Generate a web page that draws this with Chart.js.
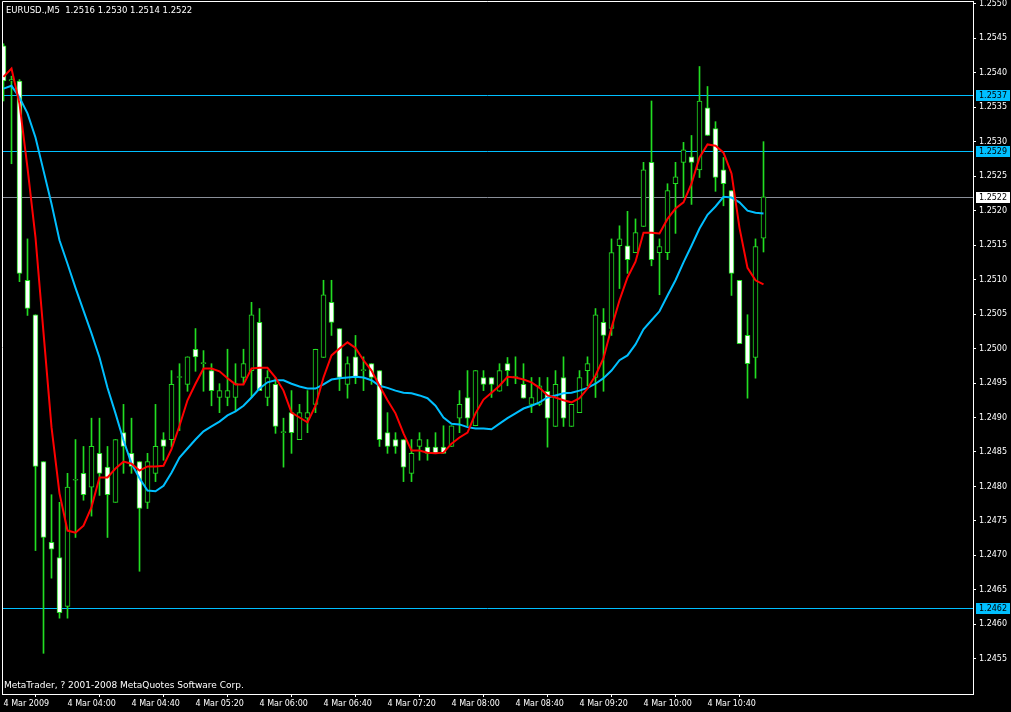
<!DOCTYPE html>
<html>
<head>
<meta charset="utf-8">
<title>EURUSD M5</title>
<script src="https://cdn.jsdelivr.net/npm/chart.js@4.4.1/dist/chart.umd.min.js"></script>
<style>
  html, body { margin: 0; padding: 0; background: #000; }
  #wrap { width: 1011px; height: 712px; }
</style>
</head>
<body>
<div id="wrap"><canvas id="chart" width="1011" height="712"></canvas></div>
<script>
// EURUSD M5, 4 Mar 2009 03:20 .. 11:15
const symbol = 'EURUSD.,M5';
const copyright = 'MetaTrader, ? 2001-2008 MetaQuotes Software Corp.';

const openPrices = [
  1.25439,1.25388,1.25388,1.25099,1.25049,1.24836,1.24719,1.24697,1.24626,1.24809,
  1.24819,1.24799,1.24848,1.24828,1.24777,1.24878,1.24848,1.24836,1.24777,1.24819,
  1.24868,1.24868,1.24958,1.24948,1.24999,1.24978,1.24968,1.24929,1.24929,1.24929,
  1.24958,1.24968,1.25038,1.24929,1.24948,1.24878,1.24907,1.24868,1.24899,1.24919,
  1.24987,1.25067,1.25029,1.24948,1.24988,1.24968,1.24978,1.24968,1.24878,1.24868,
  1.24868,1.24819,1.24858,1.24857,1.24857,1.24857,1.24858,1.24899,1.24929,1.24888,
  1.24958,1.24958,1.24938,1.24978,1.24958,1.24948,1.24919,1.24919,1.24938,1.24887,
  1.24958,1.24887,1.24907,1.24968,1.24958,1.25038,1.25029,1.25149,1.25149,1.25139,
  1.25177,1.25270,1.25139,1.25139,1.25239,1.25270,1.25278,1.25259,1.25349,1.25319,
  1.25259,1.25229,1.25099,1.25019,1.24987,1.2516
];
const highPrices = [
  1.25442,1.25395,1.25390,1.25159,1.25049,1.24836,1.24788,1.24777,1.24819,1.24868,
  1.24858,1.24899,1.24899,1.24858,1.24868,1.24919,1.24899,1.24836,1.24848,1.24919,
  1.24878,1.24968,1.24978,1.24988,1.25029,1.24997,1.24978,1.24949,1.24999,1.24978,
  1.24999,1.25067,1.25058,1.24968,1.24958,1.24899,1.24939,1.24919,1.24939,1.24999,
  1.25099,1.25099,1.25029,1.24988,1.25019,1.24988,1.24978,1.24968,1.24907,1.24878,
  1.24868,1.24868,1.24878,1.24868,1.24878,1.24888,1.24888,1.24939,1.24968,1.24968,
  1.24968,1.24958,1.24978,1.24987,1.24988,1.24978,1.24958,1.24958,1.24958,1.24968,
  1.24988,1.24919,1.24968,1.24988,1.25058,1.25058,1.25159,1.25178,1.25199,1.25188,
  1.25270,1.25359,1.25159,1.25239,1.25270,1.25299,1.25309,1.25409,1.25380,1.25329,
  1.25277,1.25229,1.25099,1.25049,1.25159,1.2530
];
const lowPrices = [
  1.25359,1.25268,1.25097,1.25048,1.24707,1.24558,1.24667,1.24609,1.24609,1.24726,
  1.24780,1.24757,1.24787,1.24726,1.24777,1.24819,1.24819,1.24677,1.24768,1.24807,
  1.24838,1.24857,1.24881,1.24938,1.24967,1.24938,1.24917,1.24907,1.24917,1.24910,
  1.24949,1.24929,1.24939,1.24917,1.24877,1.24828,1.24848,1.24868,1.24878,1.24907,
  1.24987,1.25019,1.24939,1.24928,1.24949,1.24939,1.24948,1.24858,1.24848,1.24848,
  1.24807,1.24807,1.24838,1.24838,1.24848,1.24848,1.24858,1.24878,1.24888,1.24888,
  1.24939,1.24929,1.24938,1.24946,1.24949,1.24928,1.24907,1.24917,1.24857,1.24887,
  1.24887,1.24887,1.24907,1.24946,1.24929,1.24938,1.25019,1.25087,1.25109,1.25139,
  1.25177,1.25120,1.25078,1.25129,1.25167,1.25219,1.25209,1.25248,1.25309,1.25228,
  1.25207,1.25077,1.25007,1.24928,1.24957,1.2514
];
const closePrices = [
  1.25388,1.25390,1.25109,1.25058,1.24829,1.24726,1.24709,1.24617,1.24799,1.24809,
  1.24788,1.24858,1.24819,1.24788,1.24868,1.24858,1.24829,1.24768,1.24836,1.24858,
  1.24858,1.24948,1.24958,1.24988,1.24988,1.24978,1.24939,1.24939,1.24939,1.24949,
  1.24978,1.25049,1.24939,1.24958,1.24887,1.24878,1.24878,1.24907,1.24907,1.24999,
  1.25078,1.25038,1.24958,1.24978,1.24958,1.24968,1.24958,1.24868,1.24858,1.24858,
  1.24828,1.24848,1.24868,1.24848,1.24848,1.24848,1.24888,1.24919,1.24899,1.24968,
  1.24948,1.24948,1.24968,1.24968,1.24958,1.24928,1.24929,1.24946,1.24899,1.24948,
  1.24899,1.24919,1.24958,1.24978,1.25049,1.25019,1.25139,1.25159,1.25129,1.25168,
  1.25259,1.25129,1.25148,1.25229,1.25249,1.25288,1.25270,1.25359,1.25309,1.25248,
  1.25239,1.25109,1.25007,1.24978,1.25148,1.2522
];
// red (fast) and blue (slow) moving averages as drawn
const fastMA = [
  1.25394,1.25406,1.25355,1.25262,1.25161,1.25023,1.24886,1.24790,1.24736,1.24733,
  1.24743,1.24770,1.24813,1.24813,1.24826,1.24836,1.24833,1.24823,1.24829,1.24829,
  1.24830,1.24854,1.24888,1.24925,1.24949,1.24971,1.24971,1.24967,1.24957,1.24948,
  1.24948,1.24971,1.24972,1.24972,1.24958,1.24939,1.24907,1.24900,1.24893,1.24917,
  1.24958,1.24990,1.25000,1.25009,1.25001,1.24983,1.24968,1.24946,1.24925,1.24906,
  1.24877,1.24852,1.24852,1.24849,1.24848,1.24849,1.24862,1.24871,1.24878,1.24906,
  1.24926,1.24936,1.24946,1.24959,1.24958,1.24955,1.24951,1.24943,1.24932,1.24929,
  1.24925,1.24922,1.24928,1.24942,1.24961,1.24986,1.25030,1.25070,1.25103,1.25126,
  1.25168,1.25168,1.25167,1.25188,1.25203,1.25212,1.25239,1.25277,1.25296,1.25294,
  1.25284,1.25254,1.25175,1.25117,1.25099,1.25093
];
const slowMA = [
  1.25377,1.25381,1.25364,1.25341,1.25306,1.25258,1.25210,1.25157,1.25123,1.25088,
  1.25055,1.25022,1.24987,1.24943,1.24906,1.24867,1.24833,1.24812,1.24794,1.24793,
  1.24801,1.24820,1.24842,1.24855,1.24868,1.24880,1.24887,1.24894,1.24903,1.24909,
  1.24917,1.24929,1.24942,1.24951,1.24954,1.24954,1.24949,1.24945,1.24942,1.24942,
  1.24948,1.24955,1.24957,1.24958,1.24959,1.24958,1.24954,1.24946,1.24943,1.24939,
  1.24936,1.24935,1.24932,1.24928,1.24917,1.24900,1.24891,1.24890,1.24886,1.24884,
  1.24884,1.24883,1.24891,1.24899,1.24906,1.24913,1.24917,1.24922,1.24929,1.24932,
  1.24935,1.24936,1.24939,1.24943,1.24949,1.24957,1.24968,1.24983,1.24990,1.25006,
  1.25028,1.25041,1.25054,1.25077,1.25099,1.25125,1.25149,1.25174,1.25194,1.25206,
  1.25220,1.25219,1.25212,1.25200,1.25197,1.25196
];

const timeLabels = ['4 Mar 2009', '4 Mar 04:00', '4 Mar 04:40', '4 Mar 05:20', '4 Mar 06:00', '4 Mar 06:40',
  '4 Mar 07:20', '4 Mar 08:00', '4 Mar 08:40', '4 Mar 09:20', '4 Mar 10:00', '4 Mar 10:40'];
const timeLabelBars = [0, 8, 16, 24, 32, 40, 48, 56, 64, 72, 80, 88];
const priceTicks = [1.2455, 1.2460, 1.2465, 1.2470, 1.2475, 1.2480, 1.2485, 1.2490, 1.2495, 1.2500,
  1.2505, 1.2510, 1.2515, 1.2520, 1.2525, 1.2530, 1.2535, 1.2540, 1.2545, 1.2550];
// horizontal lines put on the chart
const levelPrices = [1.25367, 1.25287, 1.24623];

const green = '#22dd22';
const skyBlue = '#00bfff';
const fontFamily = '"DejaVu Sans", Verdana, sans-serif';
const axisFont = { family: fontFamily, size: 8 };

const barIndex = openPrices.map((_, i) => i);
const lastBar = barIndex.length - 1;
const bidPrice = closePrices[lastBar];

const mtOverlay = {
    id: 'mtOverlay',
    beforeDatasetsDraw(chart) {
        let ctx = chart.ctx;
        let area = chart.chartArea;
        let ys = chart.scales.y;
        ctx.save();
        ctx.lineWidth = 1;
        levelPrices.forEach(p => {
            let y = Math.round(ys.getPixelForValue(p)) + 0.5;
            ctx.strokeStyle = skyBlue;
            ctx.beginPath(); ctx.moveTo(area.left, y); ctx.lineTo(area.right, y); ctx.stroke();
        });
        let yb = Math.round(ys.getPixelForValue(bidPrice)) + 0.5;
        ctx.strokeStyle = '#8a8f99';
        ctx.beginPath(); ctx.moveTo(area.left, yb); ctx.lineTo(area.right, yb); ctx.stroke();
        ctx.restore();
    },
    afterDraw(chart) {
        let ctx = chart.ctx;
        let area = chart.chartArea;
        let ys = chart.scales.y;
        ctx.save();
        // frame top and left
        ctx.strokeStyle = '#ffffff';
        ctx.lineWidth = 1;
        ctx.beginPath();
        ctx.moveTo(area.left + 0.5, area.bottom);
        ctx.lineTo(area.left + 0.5, area.top + 0.5);
        ctx.lineTo(area.right, area.top + 0.5);
        ctx.stroke();

        ctx.textBaseline = 'middle';
        ctx.textAlign = 'left';
        ctx.fillStyle = '#ffffff';
        let last = [openPrices[lastBar], highPrices[lastBar], lowPrices[lastBar], closePrices[lastBar]]
            .map(v => v.toFixed(4)).join(' ');
        ctx.font = '8.5px ' + fontFamily;
        ctx.fillText(symbol + '  ' + last, area.left + 4, area.top + 10);
        ctx.font = '9px ' + fontFamily;
        ctx.fillText(copyright, area.left + 2, area.bottom - 8);

        // price boxes on the right scale
        ctx.font = '8px ' + fontFamily;
        let boxes = levelPrices.map(p => ({ p: p, bg: skyBlue }));
        boxes.push({ p: bidPrice, bg: '#ffffff' });
        boxes.forEach(b => {
            let y = Math.round(ys.getPixelForValue(b.p));
            ctx.fillStyle = b.bg;
            ctx.fillRect(area.right + 3, y - 5, chart.width - area.right - 4, 11);
            ctx.fillStyle = '#000000';
            ctx.fillText(b.p.toFixed(4), area.right + 6, y + 0.5);
        });
        ctx.restore();
    }
};

function drawChart(canvasid) {
    let ctx = document.getElementById(canvasid).getContext('2d');
    return new Chart(ctx, {
        type: 'bar',
        data: {
            datasets: [{
                type: 'line',
                label: 'MA fast',
                data: barIndex.map(i => ({ x: i, y: fastMA[i] })),
                borderColor: '#ff0000',
                borderWidth: 2,
                pointRadius: 0,
                tension: 0,
                order: 0
            }, {
                type: 'line',
                label: 'MA slow',
                data: barIndex.map(i => ({ x: i, y: slowMA[i] })),
                borderColor: skyBlue,
                borderWidth: 2,
                pointRadius: 0,
                tension: 0,
                order: 1
            }, {
                label: 'body',
                data: barIndex.map(i => ({ x: i, y: [openPrices[i], closePrices[i]] })),
                backgroundColor: barIndex.map(i => closePrices[i] >= openPrices[i] ? '#000000' : '#ffffff'),
                borderColor: green,
                borderWidth: 1,
                borderSkipped: false,
                barThickness: 5,
                minBarLength: 1,
                grouped: false,
                order: 2
            }, {
                label: 'wick',
                data: barIndex.map(i => ({ x: i, y: [lowPrices[i], highPrices[i]] })),
                backgroundColor: green,
                borderWidth: 0,
                barThickness: 1,
                minBarLength: 1,
                grouped: false,
                order: 3
            }]
        },
        options: {
            responsive: false,
            devicePixelRatio: 1,
            animation: false,
            layout: { autoPadding: false, padding: { left: 2, top: 1, right: 0, bottom: 0 } },
            plugins: {
                legend: { display: false },
                tooltip: { enabled: false }
            },
            scales: {
                x: {
                    type: 'linear',
                    offset: false,
                    min: -0.1875,
                    max: 121.1875,
                    afterBuildTicks: s => { s.ticks = timeLabelBars.map(v => ({ value: v })); },
                    afterFit: s => { s.height = 18; s.paddingLeft = 0; s.paddingRight = 0; },
                    ticks: {
                        color: '#ffffff',
                        font: axisFont,
                        autoSkip: false,
                        maxRotation: 0,
                        minRotation: 0,
                        align: 'start',
                        padding: 2,
                        callback: (v, i) => timeLabels[i]
                    },
                    grid: { drawOnChartArea: false, drawTicks: true, tickLength: 3, tickColor: '#ffffff' },
                    border: { display: true, color: '#ffffff', width: 1 }
                },
                y: {
                    type: 'linear',
                    position: 'right',
                    min: 1.24499,
                    max: 1.25504,
                    afterBuildTicks: s => { s.ticks = priceTicks.map(v => ({ value: v })); },
                    afterFit: s => { s.width = 38; s.paddingTop = 0; s.paddingBottom = 0; },
                    ticks: {
                        color: '#ffffff',
                        font: axisFont,
                        padding: 3,
                        callback: v => v.toFixed(4)
                    },
                    grid: { drawOnChartArea: false, drawTicks: true, tickLength: 3, tickColor: '#ffffff' },
                    border: { display: true, color: '#ffffff', width: 1 }
                }
            }
        },
        plugins: [mtOverlay]
    });
}

drawChart('chart');
</script>
</body>
</html>
